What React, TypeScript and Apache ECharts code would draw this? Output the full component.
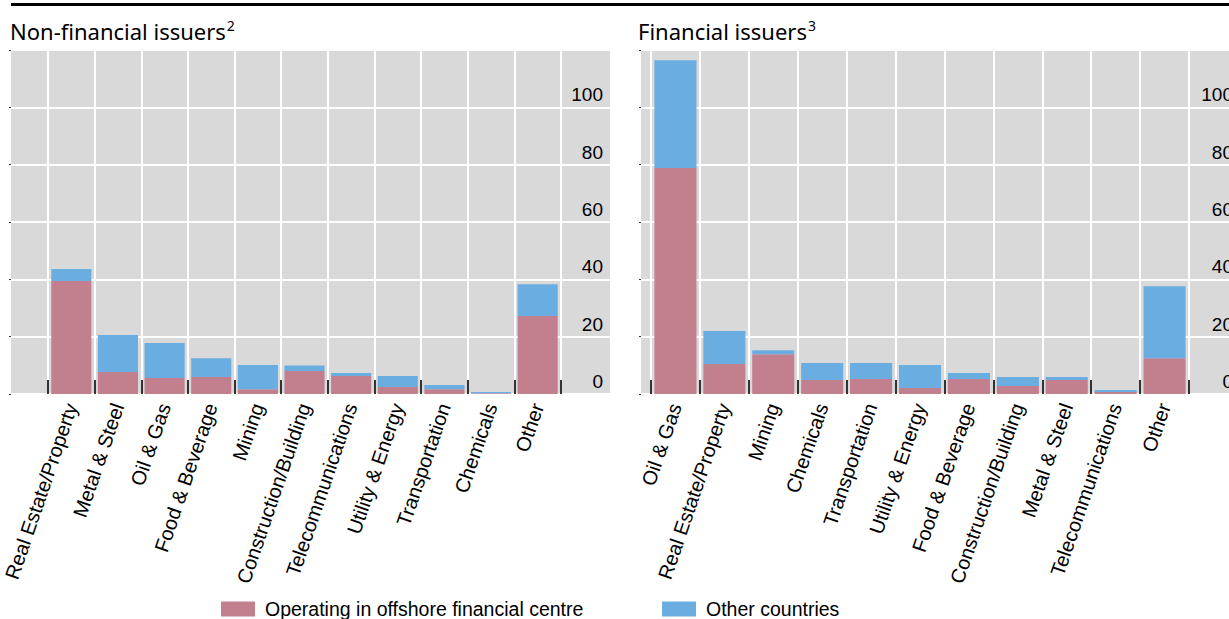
import React, { useEffect, useRef } from "react";
import * as echarts from "echarts";

const categoriesNonFin = [
  "Real Estate/Property",
  "Metal & Steel",
  "Oil & Gas",
  "Food & Beverage",
  "Mining",
  "Construction/Building",
  "Telecommunications",
  "Utility & Energy",
  "Transportation",
  "Chemicals",
  "Other",
];
const offshoreNonFin = [39.4, 7.7, 5.6, 5.9, 1.7, 8.0, 6.3, 2.4, 1.7, 0.3, 27.2];
const otherNonFin = [4.2, 12.9, 12.2, 6.6, 8.4, 1.9, 1.0, 3.9, 1.4, 0.4, 11.1];

const categoriesFin = [
  "Oil & Gas",
  "Real Estate/Property",
  "Mining",
  "Chemicals",
  "Transportation",
  "Utility & Energy",
  "Food & Beverage",
  "Construction/Building",
  "Metal & Steel",
  "Telecommunications",
  "Other",
];
const offshoreFin = [78.8, 10.5, 13.9, 4.9, 5.2, 2.1, 5.2, 2.8, 4.9, 0.7, 12.5];
const otherFin = [37.6, 11.5, 1.4, 5.9, 5.6, 8.0, 2.1, 3.1, 1.0, 0.7, 25.1];

const yTicks = [0, 20, 40, 60, 80, 100, 120];

const NAME_OFF = "Operating in offshore financial centre";
const NAME_OTH = "Other countries";
const RED = "#c2808f";
const BLUE = "#6aade1";
const BG = "#d9d9d9";
const ARIAL = "'Liberation Sans', Arial, sans-serif";
const TITLE_FONT = "'Noto Sans', 'Open Sans', sans-serif";

export default function App() {
  const ref = useRef<HTMLDivElement>(null);
  useEffect(() => {
    if (!ref.current) return;
    const chart = echarts.init(ref.current, undefined, { renderer: "svg" });
    const yMin = yTicks[0];
    const yMax = yTicks[yTicks.length - 1];
    const yInt = yTicks[1] - yTicks[0];

    const bgYAxis = (gridIndex: number) => ({
      type: "value",
      gridIndex,
      position: "right",
      min: yMin,
      max: yMax,
      interval: yInt,
      axisLine: { show: false },
      axisTick: { show: false },
      splitLine: { show: true, lineStyle: { color: "#ffffff", width: 2 } },
      axisLabel: {
        inside: true,
        margin: 7,
        fontSize: 19,
        color: "#000",
        fontFamily: ARIAL,
        verticalAlign: "bottom",
        padding: [0, 0, 3, 0],
        hideOverlap: false,
        formatter: (v: number) => (v >= yMax ? "" : String(v)),
      },
    });
    const leftTickAxis = (gridIndex: number) => ({
      type: "value",
      gridIndex,
      position: "left",
      min: yMin,
      max: yMax,
      interval: yInt,
      axisLine: { show: false },
      axisTick: { show: true, length: 2, lineStyle: { color: "#333", width: 1 } },
      axisLabel: { show: false },
      splitLine: { show: false },
    });
    const barYAxis = (gridIndex: number) => ({
      type: "value",
      gridIndex,
      min: yMin,
      max: yMax,
      interval: yInt,
      show: false,
      splitLine: { show: false },
    });
    const catAxis = (gridIndex: number, data: string[]) => ({
      type: "category",
      gridIndex,
      data,
      boundaryGap: true,
      axisLine: { show: false },
      axisTick: {
        show: true,
        inside: true,
        length: 14,
        interval: 0,
        lineStyle: { color: "#333", width: 2 },
      },
      splitLine: { show: true, interval: 0, lineStyle: { color: "#ffffff", width: 2 } },
      axisLabel: {
        interval: 0,
        rotate: 71,
        margin: 10,
        fontSize: 20,
        color: "#000",
        fontFamily: ARIAL,
      },
    });
    const hiddenX = (gridIndex: number) => ({
      type: "value",
      gridIndex,
      min: 0,
      max: 1,
      show: false,
      splitLine: { show: false },
    });

    const titleRich = {
      a: {
        fontSize: 22,
        fontWeight: "normal",
        color: "#000",
        fontFamily: TITLE_FONT,
        lineHeight: 27,
        verticalAlign: "bottom",
      },
      b: {
        fontSize: 14,
        fontWeight: "normal",
        color: "#000",
        fontFamily: TITLE_FONT,
        lineHeight: 14,
        verticalAlign: "bottom",
        padding: [0, 0, 10, 1],
      },
    };

    const option: any = {
      animation: false,
      backgroundColor: "#ffffff",
      title: [
        {
          text: "{a|Non-financial issuers}{b|2}",
          left: 10,
          top: 15,
          padding: 0,
          textStyle: { fontWeight: "normal", rich: titleRich },
        },
        {
          text: "{a|Financial issuers}{b|3}",
          left: 638,
          top: 15,
          padding: 0,
          textStyle: { fontWeight: "normal", rich: titleRich },
        },
      ],
      legend: [
        {
          data: [NAME_OFF],
          left: 221,
          top: 599,
          padding: 0,
          icon: "rect",
          itemWidth: 34,
          itemHeight: 15,
          textStyle: { fontSize: 19.5, color: "#000", fontFamily: ARIAL, padding: [0, 0, 0, 5] },
        },
        {
          data: [NAME_OTH],
          left: 662,
          top: 599,
          padding: 0,
          icon: "rect",
          itemWidth: 34,
          itemHeight: 15,
          textStyle: { fontSize: 19.5, color: "#000", fontFamily: ARIAL, padding: [0, 0, 0, 5] },
        },
      ],
      graphic: [
        {
          type: "line",
          shape: { x1: 11, y1: 4.5, x2: 1229, y2: 4.5 },
          style: { stroke: "#000", lineWidth: 3 },
          silent: true,
        },
      ],
      grid: [
        { left: 11, width: 599, top: 50, height: 344, show: true, backgroundColor: BG, borderWidth: 0, outerBoundsMode: "none" },
        { left: 48, width: 513, top: 50, height: 344, outerBoundsMode: "none" },
        { left: 641, width: 599, top: 50, height: 344, show: true, backgroundColor: BG, borderWidth: 0, outerBoundsMode: "none" },
        { left: 651, width: 538, top: 50, height: 344, outerBoundsMode: "none" },
      ],
      xAxis: [hiddenX(0), catAxis(1, categoriesNonFin), hiddenX(2), catAxis(3, categoriesFin)],
      yAxis: [
        bgYAxis(0),
        leftTickAxis(0),
        barYAxis(1),
        bgYAxis(2),
        leftTickAxis(2),
        barYAxis(3),
      ],
      series: [
        {
          type: "bar",
          name: NAME_OFF,
          xAxisIndex: 1,
          yAxisIndex: 2,
          stack: "L",
          barWidth: "86%",
          itemStyle: { color: RED },
          data: offshoreNonFin,
        },
        {
          type: "bar",
          name: NAME_OTH,
          xAxisIndex: 1,
          yAxisIndex: 2,
          stack: "L",
          barWidth: "86%",
          itemStyle: { color: BLUE },
          data: otherNonFin,
        },
        {
          type: "bar",
          name: NAME_OFF,
          xAxisIndex: 3,
          yAxisIndex: 5,
          stack: "R",
          barWidth: "86%",
          itemStyle: { color: RED },
          data: offshoreFin,
        },
        {
          type: "bar",
          name: NAME_OTH,
          xAxisIndex: 3,
          yAxisIndex: 5,
          stack: "R",
          barWidth: "86%",
          itemStyle: { color: BLUE },
          data: otherFin,
        },
      ],
    };
    chart.setOption(option);
    return () => chart.dispose();
  }, []);
  return (
    <div
      ref={ref}
      style={{ position: "fixed", left: 0, top: 0, width: 1229, height: 619, overflow: "hidden" }}
    />
  );
}
